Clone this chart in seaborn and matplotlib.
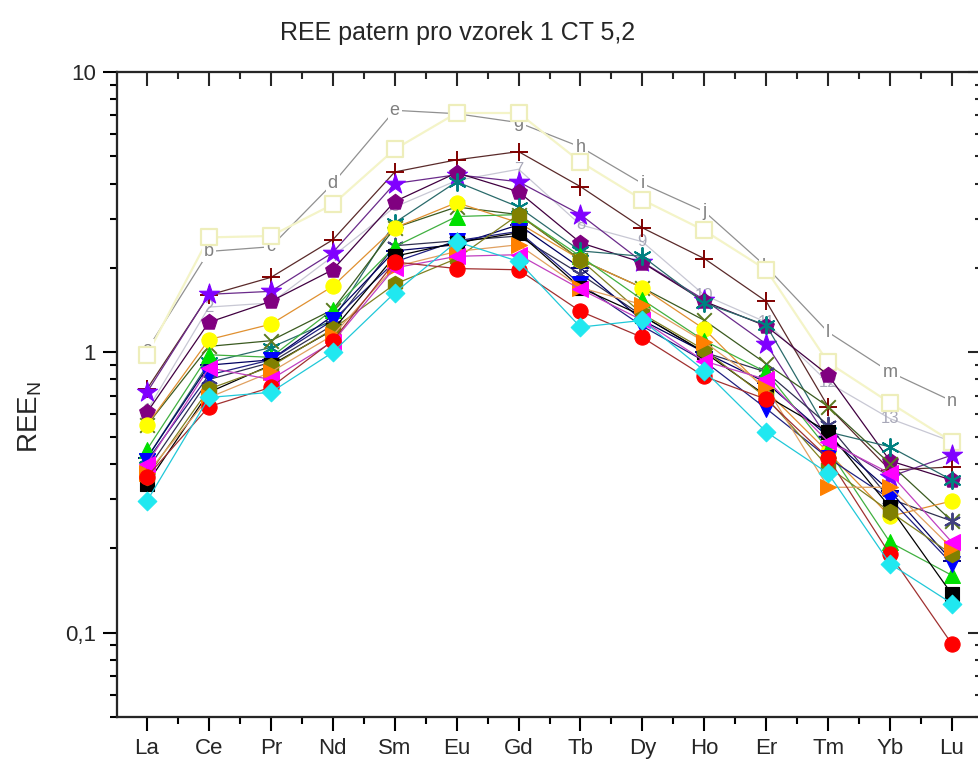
import numpy as np
import pandas as pd
import matplotlib
matplotlib.use("Agg")
import matplotlib.pyplot as plt
import seaborn as sns
from matplotlib.ticker import FixedLocator, FixedFormatter, LogLocator, NullFormatter

elements = ['La', 'Ce', 'Pr', 'Nd', 'Sm', 'Eu', 'Gd', 'Tb', 'Dy', 'Ho', 'Er', 'Tm', 'Yb', 'Lu']

# text-symbol series
letter_marks = list('abcdefghijklmn')
letter_vals = [1.02, 2.29, 2.38, 4.0, 7.3, 7.1, 6.6, 5.4, 4.0, 3.18, 2.02, 1.18, 0.85, 0.67]
number_marks = [str(i) for i in range(1, 15)]
number_vals = [0.62, 1.45, 1.5, 2.2, 3.3, 4.1, 4.5, 2.85, 2.48, 1.6, 1.28, 0.78, 0.58, 0.48]

# symbol series
pale_square = [0.98, 2.57, 2.6, 3.37, 5.3, 7.14, 7.14, 4.78, 3.5, 2.72, 1.97, 0.92, 0.66, 0.48]
brown_plus = [0.74, 1.6, 1.85, 2.52, 4.4, 4.86, 5.2, 3.9, 2.78, 2.16, 1.52, 0.64, 0.38, 0.39]
violet_star = [0.72, 1.61, 1.65, 2.27, 4.0, 4.3, 4.06, 3.1, 2.1, 1.54, 1.07, 0.49, 0.36, 0.43]
purple_pentagon = [0.61, 1.28, 1.52, 1.97, 3.45, 4.37, 3.74, 2.46, 2.09, 1.52, 1.24, 0.83, 0.41, 0.35]
teal_asterisk = [0.42, 0.92, 1.04, 1.3, 2.9, 4.06, 3.3, 2.3, 2.2, 1.5, 1.25, 0.52, 0.46, 0.35]
green_cross = [0.55, 1.05, 1.1, 1.42, 2.78, 3.3, 3.1, 2.14, 1.7, 1.3, 0.91, 0.64, 0.4, 0.25]
slate_asterisk = [0.38, 0.8, 0.92, 1.25, 2.4, 2.5, 2.6, 1.9, 1.35, 1.0, 0.85, 0.55, 0.3, 0.25]
navy_bar = [0.42, 0.9, 0.94, 1.35, 2.3, 2.42, 2.85, 2.0, 1.3, 1.0, 0.78, 0.5, 0.32, 0.18]
yellow_circle = [0.55, 1.11, 1.26, 1.72, 2.78, 3.42, 2.9, 2.14, 1.7, 1.21, 0.73, 0.44, 0.26, 0.295]
green_triangle = [0.45, 0.98, 0.96, 1.42, 2.38, 3.05, 3.1, 2.2, 1.54, 1.1, 0.85, 0.45, 0.21, 0.16]
blue_triangle = [0.41, 0.83, 0.94, 1.3, 2.1, 2.5, 2.7, 1.75, 1.24, 0.93, 0.63, 0.42, 0.3, 0.176]
black_square = [0.34, 0.72, 0.9, 1.2, 2.2, 2.46, 2.67, 1.7, 1.35, 1.0, 0.7, 0.52, 0.28, 0.137]
olive_hexagon = [0.36, 0.74, 0.89, 1.21, 1.75, 2.16, 3.1, 2.14, 1.37, 1.02, 0.69, 0.39, 0.27, 0.19]
orange_triangle = [0.37, 0.69, 0.85, 1.15, 2.02, 2.29, 2.42, 1.7, 1.48, 1.09, 0.75, 0.33, 0.33, 0.2]
magenta_triangle = [0.4, 0.88, 0.8, 1.09, 2.0, 2.2, 2.23, 1.68, 1.3, 0.93, 0.8, 0.48, 0.37, 0.21]
red_circle = [0.36, 0.64, 0.75, 1.1, 2.1, 1.99, 1.97, 1.4, 1.13, 0.82, 0.68, 0.42, 0.19, 0.091]
cyan_diamond = [0.295, 0.69, 0.72, 1.0, 1.63, 2.48, 2.11, 1.23, 1.3, 0.86, 0.52, 0.37, 0.176, 0.127]

# (values, marker, marker colour, line colour, size)
series = [
    (brown_plus, '+', '#800000', '#5a2a2a', 160),
    (violet_star, '*', '#8000ff', '#6a2a8a', 230),
    (purple_pentagon, 'p', '#800080', '#400040', 140),
    (teal_asterisk, (6, 2, 0), '#008080', '#2a6a6a', 150),
    (green_cross, 'x', '#5a7a20', '#3a5a20', 110),
    (slate_asterisk, (6, 2, 0), '#404080', '#303050', 130),
    (navy_bar, '_', '#000080', '#000060', 150),
    (yellow_circle, 'o', '#ffff00', '#e09030', 120),
    (green_triangle, '^', '#00e000', '#40b040', 130),
    (blue_triangle, 'v', '#0000ff', '#202080', 130),
    (black_square, 's', '#000000', '#000000', 110),
    (olive_hexagon, 'h', '#808000', '#808020', 140),
    (orange_triangle, '>', '#ff8000', '#e0a060', 130),
    (magenta_triangle, '<', '#ff00ff', '#c040c0', 130),
    (red_circle, 'o', '#ff0000', '#a03030', 120),
    (cyan_diamond, 'D', '#20e8f0', '#20c8d8', 90),
]

sns.set_style('ticks')
plt.rcParams['font.family'] = ['Liberation Sans', 'DejaVu Sans']

fig = plt.figure(figsize=(9.79, 7.64), dpi=100)
ax = fig.add_axes([117 / 979, 1 - 717 / 764, 865 / 979, 645 / 764])
x = np.arange(len(elements))

# numbered text series (drawn first, mostly hidden)
sns.lineplot(x=x, y=number_vals, color='#c8c8d4', linewidth=0.9, ax=ax)
for xi, yi, t in zip(x, number_vals, number_marks):
    ax.text(xi, yi, t, color='#a8a8b8', fontsize=12, ha='center', va='center', zorder=2)

# lettered text series
sns.lineplot(x=x, y=letter_vals, color='#909090', linewidth=0.9, ax=ax)
for xi, yi, t in zip(x, letter_vals, letter_marks):
    ax.text(xi, yi, t, color='#808080', fontsize=13, ha='center', va='center', zorder=3,
            bbox=dict(facecolor='white', edgecolor='none', pad=1.5))

# pale open squares
sns.lineplot(x=x, y=pale_square, color='#f4f4c8', linewidth=1.6, ax=ax)
sns.scatterplot(x=x, y=pale_square, marker='s', s=120, facecolor='white',
                edgecolor='#eeeebb', linewidth=1.6, ax=ax, zorder=4)

z = 5
for vals, mk, mcol, lcol, size in series:
    sns.lineplot(x=x, y=vals, color=lcol, linewidth=0.9, ax=ax, zorder=z)
    ms = matplotlib.markers.MarkerStyle(mk)
    if ms.is_filled():
        sns.scatterplot(x=x, y=vals, marker=mk, s=size, color=mcol, edgecolor=mcol,
                        linewidth=0.8, ax=ax, zorder=z + 0.5)
    else:
        sns.scatterplot(x=x, y=vals, marker=mk, s=size, color=mcol, linewidth=1.4,
                        ax=ax, zorder=z + 0.5)
    z += 1

ax.set_yscale('log')
ax.set_ylim(0.05, 10)
ax.set_xlim(-0.485, 13.485)
ax.set_xlabel('')
ax.set_ylabel('')

ax.xaxis.set_major_locator(FixedLocator(x))
ax.xaxis.set_major_formatter(FixedFormatter(elements))
ax.xaxis.set_minor_locator(FixedLocator(x[:-1] + 0.5))
ax.yaxis.set_major_locator(FixedLocator([0.1, 1, 10]))
ax.yaxis.set_major_formatter(FixedFormatter(['0,1', '1', '10']))
ax.yaxis.set_minor_locator(LogLocator(base=10, subs=np.arange(2, 10)))
ax.yaxis.set_minor_formatter(NullFormatter())

ax.tick_params(which='major', direction='out', length=10, width=1.5, labelsize=16, pad=5, color='black')
ax.tick_params(which='minor', direction='out', length=5, width=1.5, color='black')
for sp in ax.spines.values():
    sp.set_linewidth(1.5)
    sp.set_color('black')
    sp.set_visible(True)

# inward ticks on top and right
ax_top = ax.twiny()
ax_top.set_xlim(ax.get_xlim())
ax_top.xaxis.set_major_locator(FixedLocator(x))
ax_top.xaxis.set_minor_locator(FixedLocator(x[:-1] + 0.5))
ax_top.tick_params(which='major', direction='in', length=10, width=1.5, labeltop=False)
ax_top.tick_params(which='minor', direction='in', length=5, width=1.5)

ax_right = ax.twinx()
ax_right.set_yscale('log')
ax_right.set_ylim(ax.get_ylim())
ax_right.yaxis.set_major_locator(FixedLocator([0.1, 1, 10]))
ax_right.yaxis.set_minor_locator(LogLocator(base=10, subs=np.arange(2, 10)))
ax_right.yaxis.set_minor_formatter(NullFormatter())
ax_right.tick_params(which='major', direction='in', length=10, width=1.5, labelright=False)
ax_right.tick_params(which='minor', direction='in', length=5, width=1.5)
for a in (ax_top, ax_right):
    for sp in a.spines.values():
        sp.set_linewidth(1.5)

fig.text(458 / 979, 1 - 33 / 764, 'REE patern pro vzorek 1 CT 5,2', fontsize=18,
         ha='center', va='center')
fig.text(30 / 979, 1 - 417 / 764, r'REE$_\mathregular{N}$', fontsize=20, rotation=90,
         ha='center', va='center')

fig.savefig('out.png', dpi=100)
